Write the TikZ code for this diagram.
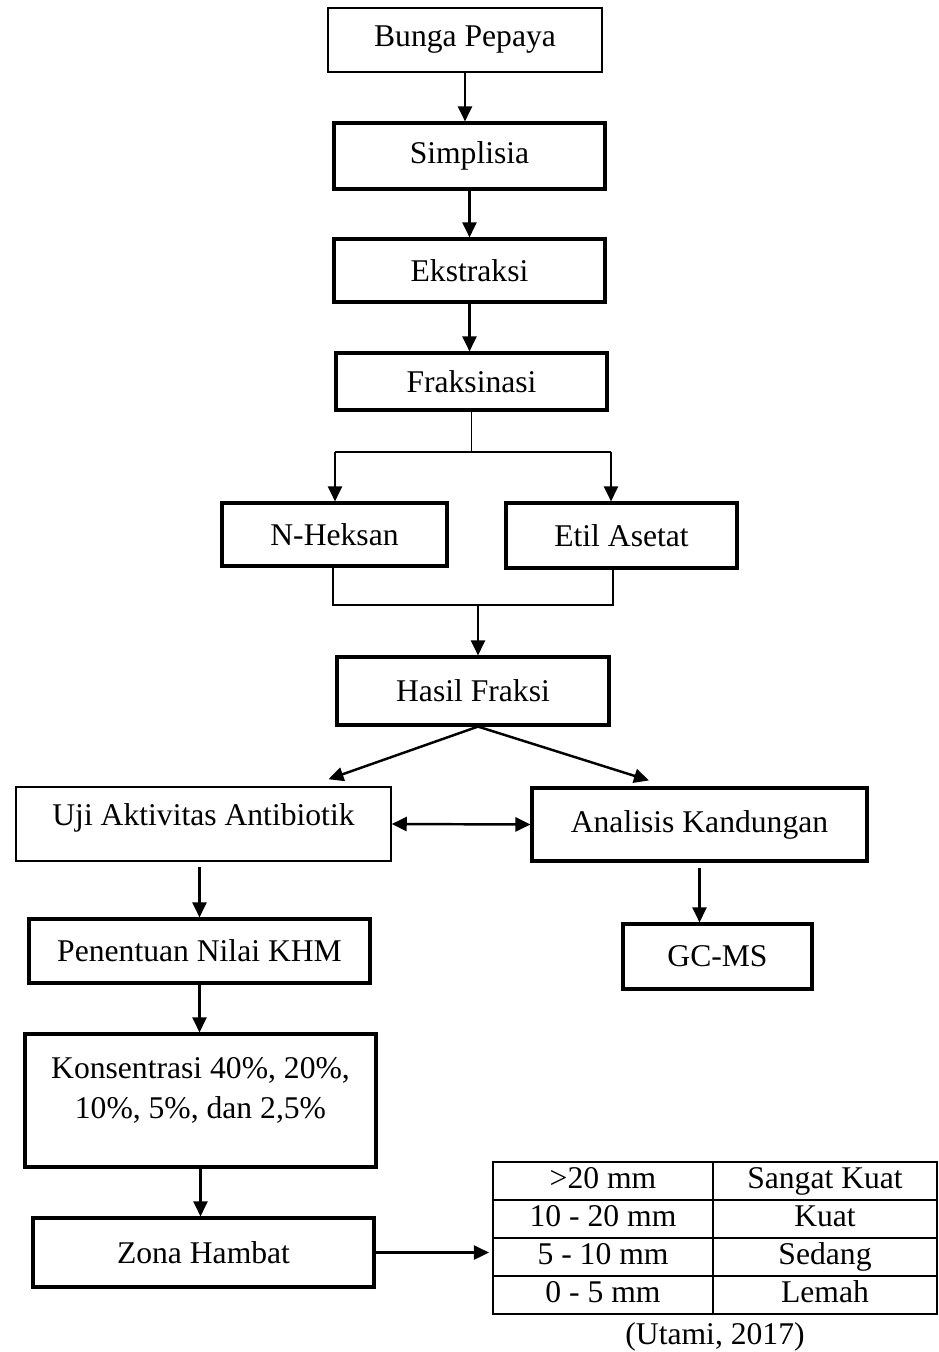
\documentclass[tikz,border=0pt]{standalone}
\usepackage{fontspec}
\setmainfont{Liberation Serif}
\usetikzlibrary{arrows.meta}

\tikzstyle{kotak} = [rectangle, draw=black, line width=1.8pt, text centered, inner sep=0pt, font=\fontsize{18}{22.8}\selectfont]
\tikzstyle{kotaktipis} = [kotak, line width=0.9pt]
\tikzstyle{sel} = [rectangle, draw=black, line width=1.2pt, minimum height=0.76cm, inner sep=0pt, text height=13pt, text depth=4.5pt, font=\fontsize{18}{22.8}\selectfont]
\tikzstyle{panah} = [line width=1.4pt, -{Triangle[length=0.3cm,width=0.28cm]}]
\tikzstyle{panahdua} = [line width=1.4pt, {Triangle[length=0.3cm,width=0.28cm]}-{Triangle[length=0.3cm,width=0.28cm]}]
\tikzstyle{garis} = [line width=0.6pt]

\begin{document}
\begin{tikzpicture}[x=0.02cm, y=-0.02cm]
\useasboundingbox (0,0) rectangle (938,1352);

\node (bunga) [kotaktipis, minimum width=5.48cm, minimum height=1.28cm] at (465,40) {Bunga Pepaya};
\node (simplisia) [kotak, minimum width=5.42cm, minimum height=1.32cm] at (469.5,156) {Simplisia};
\node (ekstraksi) [kotak, minimum width=5.42cm, minimum height=1.26cm] at (469.5,270.5) {Ekstraksi};
\node (fraksinasi) [kotak, minimum width=5.42cm, minimum height=1.14cm] at (471.5,381.5) {Fraksinasi};

\node (nheksan) [kotak, minimum width=4.5cm, minimum height=1.26cm] at (334.5,534.5) {N-Heksan};
\node (etil) [kotak, minimum width=4.62cm, minimum height=1.3cm] at (621.5,535.5) {Etil Asetat};

\node (hasil) [kotak, minimum width=5.44cm, minimum height=1.36cm] at (473,691) {Hasil Fraksi};

\node (uji) [kotaktipis, minimum width=7.5cm, minimum height=1.48cm] at (203.5,824) {\raisebox{0.12cm}[\height][\depth]{Uji Aktivitas Antibiotik}};
\node (analisis) [kotak, minimum width=6.7cm, minimum height=1.46cm] at (699.5,824.5) {Analisis Kandungan};

\node (penentuan) [kotak, minimum width=6.82cm, minimum height=1.28cm] at (199.5,951) {Penentuan Nilai KHM};
\node (gcms) [kotak, minimum width=3.78cm, minimum height=1.3cm] at (717.5,956.5) {GC-MS};

\node (konsen) [kotak, minimum width=7.02cm, minimum height=2.66cm] at (200.5,1100.5) {\raisebox{0.2cm}[\height][\depth]{\begin{tabular}{@{}c@{}}Konsentrasi 40\%, 20\%,\\ 10\%, 5\%, dan 2,5\%\end{tabular}}};

\node (zona) [kotak, minimum width=6.82cm, minimum height=1.38cm] at (203.5,1252.5) {Zona Hambat};

% tabel zona hambat
\foreach \ukuran/\kategori [count=\i] in {>20 mm/Sangat Kuat, 10 - 20 mm/Kuat, 5 - 10 mm/Sedang, 0 - 5 mm/Lemah} {
  \node (k\i a) [sel, minimum width=4.4cm] at (603,1143+38*\i) {\ukuran};
  \node (k\i b) [sel, minimum width=4.48cm] at (825,1143+38*\i) {\kategori};
}
\node (sumber) [font=\fontsize{18}{22.8}\selectfont] at (715,1337) {(Utami, 2017)};

\coordinate (kiri) at (335,452);
\coordinate (kanan) at (611,452);
\coordinate (gkiri) at (333,605);
\coordinate (gkanan) at (613,605);
\coordinate (gtengah) at (478,605);

\draw[panah] (bunga.south) -- (bunga.south |- simplisia.north);
\draw[panah] (simplisia.south) -- (simplisia.south |- ekstraksi.north);
\draw[panah] (ekstraksi.south) -- (ekstraksi.south |- fraksinasi.north);

\draw[garis] (fraksinasi.south) -- (fraksinasi.south |- kiri);
\draw[garis] (kiri) -- (kanan);
\draw[panah] (kiri) -- (kiri |- nheksan.north);
\draw[panah] (kanan) -- (kanan |- etil.north);

\draw[garis] (gkiri |- nheksan.south) -- (gkiri) -- (gkanan) -- (gkanan |- etil.south);
\draw[panah] (gtengah) -- (gtengah |- hasil.north);

\draw[panah] ([xshift=0.1cm]hasil.south) -- ([xshift=2.5cm,yshift=0.14cm]uji.north);
\draw[panah] ([xshift=0.1cm]hasil.south) -- ([xshift=-1.01cm,yshift=0.12cm]analisis.north);
\draw[panahdua] (uji.east) -- (analisis.west);

\draw[panah] ([yshift=-0.1cm]penentuan.north |- uji.south) -- (penentuan.north);
\draw[panah] ([yshift=-0.1cm]analisis.south) -- (analisis.south |- gcms.north);
\draw[panah] (penentuan.south) -- (penentuan.south |- konsen.north);
\draw[panah] (konsen.south) -- (konsen.south |- zona.north);
\draw[panah] (zona.east) -- ([xshift=-0.06cm]zona.east -| k3a.west);

\end{tikzpicture}
\end{document}
